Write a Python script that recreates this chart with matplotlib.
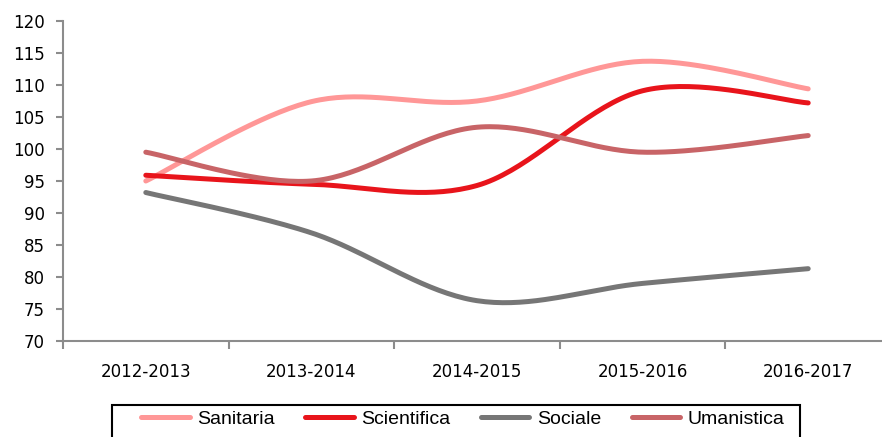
import numpy as np
import matplotlib
matplotlib.use("Agg")
import matplotlib.pyplot as plt
from matplotlib.lines import Line2D
from matplotlib.patches import Rectangle

years = ["2012-2013", "2013-2014", "2014-2015", "2015-2016", "2016-2017"]
sanitaria = [95.0, 107.4, 107.5, 113.7, 109.4]
scientifica = [95.9, 94.5, 94.3, 109.1, 107.2]
sociale = [93.2, 86.9, 76.3, 79.0, 81.3]
umanistica = [99.5, 95.0, 103.4, 99.5, 102.1]

series = [
    ("Sanitaria", sanitaria, "#FF9797"),
    ("Scientifica", scientifica, "#E8141B"),
    ("Sociale", sociale, "#767676"),
    ("Umanistica", umanistica, "#C86467"),
]


def smooth(xs, ys, n=40):
    """Bezier smoothing through every point (spreadsheet-style smoothed line)."""
    p = np.column_stack([xs, ys]).astype(float)
    out = []
    for i in range(len(p) - 1):
        p_prev = p[i - 1] if i > 0 else p[i]
        p_next = p[i + 2] if i + 2 < len(p) else p[i + 1]
        c1 = p[i] + (p[i + 1] - p_prev) / 6.0
        c2 = p[i + 1] - (p_next - p[i]) / 6.0
        t = np.linspace(0, 1, n)[:, None]
        seg = ((1 - t) ** 3) * p[i] + 3 * ((1 - t) ** 2) * t * c1 \
            + 3 * (1 - t) * t ** 2 * c2 + t ** 3 * p[i + 1]
        out.append(seg if i == 0 else seg[1:])
    seg = np.vstack(out)
    return seg[:, 0], seg[:, 1]


W, H = 882, 437
fig = plt.figure(figsize=(W / 100, H / 100), dpi=100)
ax = fig.add_axes([63 / W, 1 - 341 / H, 828 / W, 320 / H])

x = np.arange(len(years))
for name, vals, col in series:
    sx, sy = smooth(x, vals)
    ax.plot(sx, sy, color=col, lw=3.6, solid_capstyle="round", label=name, clip_on=False)

ax.set_xlim(-0.5, len(years) - 0.5)
ax.set_ylim(70, 120)
ax.set_yticks(np.arange(70, 121, 5))
ax.set_xticks(x)
ax.set_xticklabels(years)
ax.set_xticks(np.arange(-0.5, len(years), 1.0), minor=True)

for s in ["top", "right"]:
    ax.spines[s].set_visible(False)
for s in ["left", "bottom"]:
    ax.spines[s].set_color("#8C8C8C")
    ax.spines[s].set_linewidth(1.5)

ax.tick_params(axis="y", length=5, width=1.5, color="#8C8C8C", labelsize=12, pad=8)
ax.tick_params(axis="x", which="major", length=0, labelsize=12, pad=16)
ax.tick_params(axis="x", which="minor", length=6, width=1.5, color="#8C8C8C")

# legend box drawn separately so the entries can sit with their own padding
fig.patches.append(Rectangle((112 / W, -0.05), 688 / W, 0.05 + (1 - 405 / H),
                             transform=fig.transFigure, fill=False,
                             edgecolor="black", linewidth=1.5))
handles = [Line2D([0], [0], color=c, lw=3.6, solid_capstyle="round") for _, _, c in series]
leg = fig.legend(handles, [n for n, _, _ in series], loc="upper left", ncol=4,
                 bbox_to_anchor=(141 / W, 1 - 410 / H),
                 frameon=False, handlelength=2.5, handletextpad=0.4,
                 columnspacing=1.55, borderpad=0.0, borderaxespad=0.0,
                 prop={"family": ["Liberation Sans", "DejaVu Sans"], "size": 14})

fig.savefig("out.png", dpi=100)
